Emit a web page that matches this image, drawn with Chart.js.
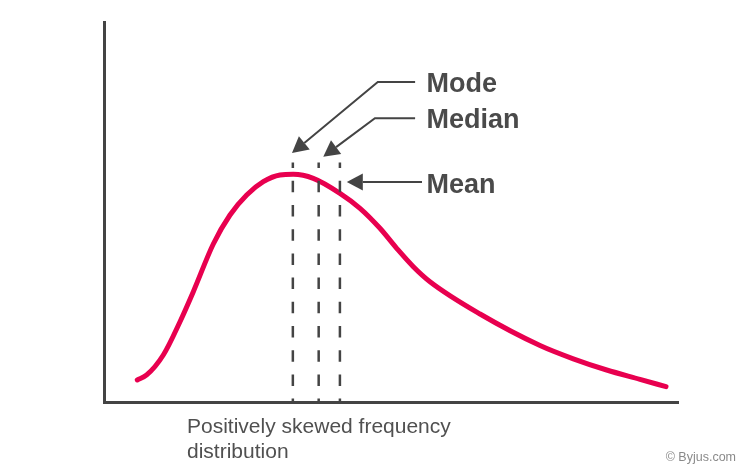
<!DOCTYPE html>
<html lang="en">
<head>
    <meta charset="UTF-8">
    <title>Positively skewed frequency distribution</title>
    <script src="https://cdn.jsdelivr.net/npm/chart.js"></script>
    <style>
        body { margin: 0; background: #fff; }
        #wrap { position: relative; width: 750px; height: 473px; }
        #caption {
            position: absolute; left: 187px; top: 412.7px;
            font: 21px "Liberation Sans", Arial, sans-serif; line-height: 25.5px;
            color: #505050;
        }
        #credit {
            position: absolute; left: 665.7px; top: 450.2px;
            font: 12.5px "Liberation Sans", Arial, sans-serif; line-height: 15px;
            color: #8a8a8a; white-space: nowrap;
        }
    </style>
</head>
<body>
    <div id="wrap">
        <canvas id="grafico"></canvas>
        <div id="caption">Positively skewed frequency<br>distribution</div>
        <div id="credit">© Byjus.com</div>
    </div>

    <script>
        // curve (x and y in 0..100 units of the plot area)
        const curveX = [5.80, 7.44, 10.33, 13.24, 15.56, 19.04, 21.95, 24.86, 27.75, 30.66, 32.98,
                        36.46, 41.11, 44.60, 48.08, 50.99, 53.89, 56.79, 65.51, 75.96, 81.76, 87.58, 93.38, 97.91];
        const curveY = [5.79, 7.11, 12.37, 21.13, 29.03, 41.58, 49.21, 54.47, 57.97, 59.74, 59.92,
                        58.87, 54.92, 50.97, 45.71, 40.45, 35.61, 31.66, 23.16, 14.87, 11.37, 8.42, 5.97, 4.03];

        // the three vertical dashed markers
        const markerNames = ["Mode", "Median", "Mean"];
        const markerX = [32.9, 37.4, 41.1];
        const markerTop = 63.0;

        // arrows: path from the label side to the tip (data units)
        const arrowPaths = [
            [[54.2, 84.2], [47.7, 84.2], [32.75, 65.5]],
            [[54.2, 74.7], [47.2, 74.7], [38.2, 64.55]],
            [[55.4, 57.9], [42.3, 57.9]]
        ];
        // label anchor (left, baseline)
        const labelX = [56.2, 56.2, 56.2];
        const labelY = [81.7, 72.0, 55.1];

        const datasets = [{
            data: curveX.map((x, i) => ({ x: x, y: curveY[i] })),
            borderColor: "#e8004f",
            borderWidth: 5,
            borderCapStyle: "round",
            borderJoinStyle: "round",
            cubicInterpolationMode: "monotone",
            pointRadius: 0,
            order: 2
        }];
        markerX.forEach(x => {
            datasets.push({
                data: [{ x: x, y: markerTop }, { x: x, y: 0 }],
                borderColor: "#444",
                borderWidth: 2.5,
                borderDash: [11.5, 12.7],
                borderDashOffset: 6,
                pointRadius: 0,
                order: 1
            });
        });

        // arrows and labels drawn on top of the datasets
        const setas = {
            id: "setas",
            afterDatasetsDraw(chart) {
                const ctx = chart.ctx;
                const sx = chart.scales.x, sy = chart.scales.y;
                ctx.save();
                ctx.strokeStyle = "#444";
                ctx.fillStyle = "#444";
                ctx.lineWidth = 2;
                arrowPaths.forEach(path => {
                    const pts = path.map(p => [sx.getPixelForValue(p[0]), sy.getPixelForValue(p[1])]);
                    const n = pts.length;
                    const tip = pts[n - 1], prev = pts[n - 2];
                    const ang = Math.atan2(tip[1] - prev[1], tip[0] - prev[0]);
                    const len = 16, half = 8.5;
                    const bx = tip[0] - len * Math.cos(ang), by = tip[1] - len * Math.sin(ang);
                    ctx.beginPath();
                    ctx.moveTo(pts[0][0], pts[0][1]);
                    for (let i = 1; i < n - 1; i++) ctx.lineTo(pts[i][0], pts[i][1]);
                    ctx.lineTo(bx, by);
                    ctx.stroke();
                    ctx.beginPath();
                    ctx.moveTo(tip[0], tip[1]);
                    ctx.lineTo(bx + half * Math.sin(ang), by - half * Math.cos(ang));
                    ctx.lineTo(bx - half * Math.sin(ang), by + half * Math.cos(ang));
                    ctx.closePath();
                    ctx.fill();
                });
                ctx.fillStyle = "#4a4a4a";
                ctx.font = 'bold 27px "Liberation Sans", Arial, sans-serif';
                ctx.textBaseline = "alphabetic";
                ctx.textAlign = "left";
                markerNames.forEach((name, i) => {
                    ctx.fillText(name, sx.getPixelForValue(labelX[i]), sy.getPixelForValue(labelY[i]));
                });
                ctx.restore();
            }
        };

        const eixo = {
            type: "linear",
            min: 0,
            max: 100,
            ticks: { display: false },
            grid: { display: false },
            border: { display: true, color: "#444", width: 3 }
        };

        new Chart(document.getElementById("grafico"), {
            type: "line",
            data: { datasets: datasets },
            options: {
                responsive: true,
                maintainAspectRatio: false,
                animation: false,
                layout: { padding: { left: 104, right: 72, top: 22, bottom: 71 } },
                plugins: { legend: { display: false }, tooltip: { enabled: false } },
                scales: {
                    x: Object.assign({}, eixo, { afterFit: s => { s.height = 0; } }),
                    y: Object.assign({}, eixo, { afterFit: s => { s.width = 0; } })
                }
            },
            plugins: [setas]
        });
    </script>
</body>
</html>
